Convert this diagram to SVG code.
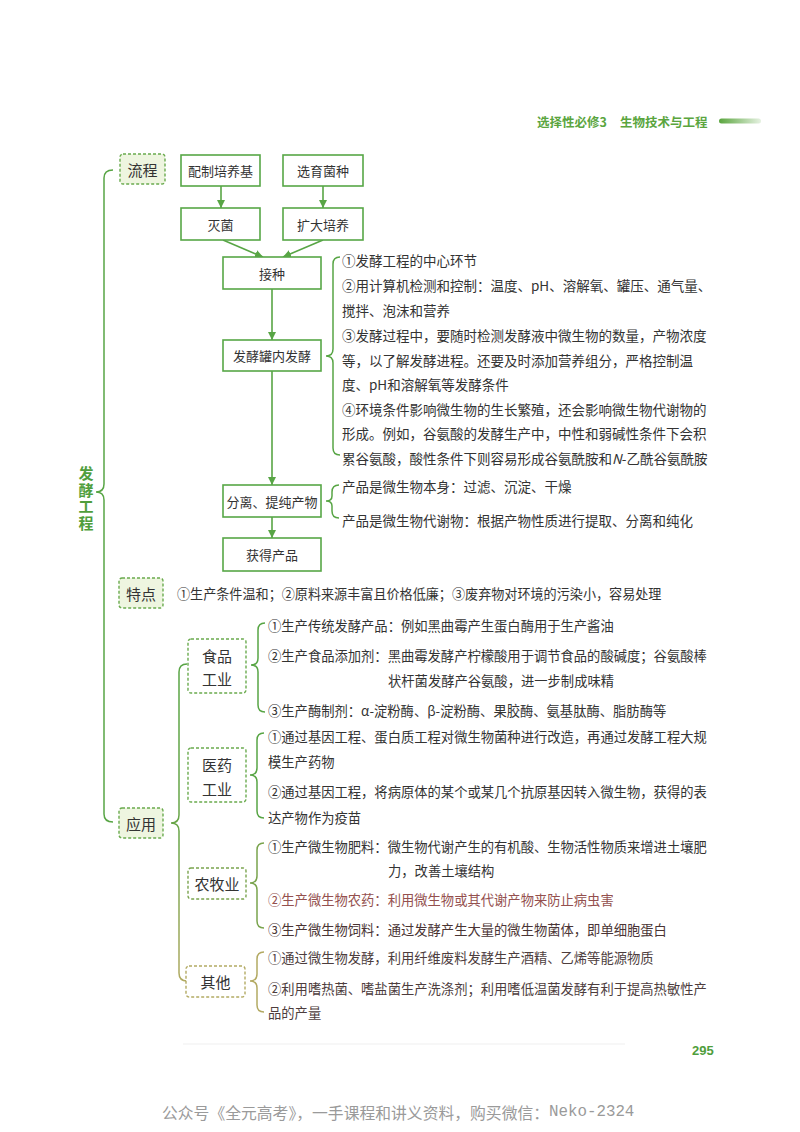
<svg xmlns="http://www.w3.org/2000/svg" width="800" height="1132" viewBox="0 0 800 1132">
<defs>
<style>
.t{font-family:"Noto Sans CJK SC","Noto Sans",sans-serif;fill:#333;dominant-baseline:central;}
.b{font-size:13.5px;}
.a{font-size:13.3px;}
.box{fill:#fff;stroke:#57a746;stroke-width:1.6;}
.dash{fill:#eef5e0;stroke:#6aab4e;stroke-width:1.4;stroke-dasharray:3 2;}
.dashw{fill:#fff;stroke:#6aab4e;stroke-width:1.4;stroke-dasharray:3 2;}
.ln{fill:none;stroke:#58a545;stroke-width:1.6;}
.br{fill:none;stroke:#58a545;stroke-width:1.5;}
.bl{font-size:13px;text-anchor:middle;}
.cat{font-size:15px;text-anchor:middle;}
.root{font-family:"Noto Sans CJK SC","Noto Sans",sans-serif;font-size:15px;font-weight:bold;fill:#4f9e3c;text-anchor:middle;writing-mode:vertical-rl;letter-spacing:1.5px;}
</style>
<marker id="ah" viewBox="0 0 10 10" refX="10" refY="5" markerWidth="8" markerHeight="8" orient="auto" markerUnits="userSpaceOnUse">
<path d="M0,0 L10,5 L0,10 z" fill="#58a545"/>
</marker>
<linearGradient id="bar" x1="0" y1="0" x2="1" y2="0">
<stop offset="0" stop-color="#5aa53e"/>
<stop offset="1" stop-color="#5aa53e" stop-opacity="0.15"/>
</linearGradient>
<linearGradient id="appg" gradientUnits="userSpaceOnUse" x1="0" y1="660" x2="0" y2="985">
<stop offset="0" stop-color="#58a545"/>
<stop offset="0.55" stop-color="#6aa548"/>
<stop offset="1" stop-color="#b3aa63"/>
</linearGradient>
</defs>
<rect width="800" height="1132" fill="#fff"/>

<g id="header">
<text class="t" x="537" y="121" style="font-size:12.5px;font-weight:bold;fill:#5aa53e">选择性必修3</text>
<text class="t" x="620" y="121" style="font-size:12.5px;font-weight:bold;fill:#5aa53e">生物技术与工程</text>
<rect x="719" y="118.5" width="42" height="5" rx="2.5" fill="url(#bar)"/>
</g>

<g id="connectors">
<path class="br" d="M113,170 Q104,170 104,178 L104,484 Q104,492 96,492 Q104,492 104,500 L104,814 Q104,822 113,822"/>
<line class="ln" x1="221" y1="186" x2="221" y2="208" marker-end="url(#ah)"/>
<line class="ln" x1="323" y1="186" x2="323" y2="208" marker-end="url(#ah)"/>
<line class="ln" x1="223" y1="240" x2="263" y2="257" marker-end="url(#ah)"/>
<line class="ln" x1="323" y1="240" x2="283" y2="257" marker-end="url(#ah)"/>
<line class="ln" x1="272" y1="289" x2="272" y2="340" marker-end="url(#ah)"/>
<line class="ln" x1="272" y1="371" x2="272" y2="485" marker-end="url(#ah)"/>
<line class="ln" x1="272" y1="517" x2="272" y2="538" marker-end="url(#ah)"/>
<path class="br" d="M340,257 Q333,257 333,264 L333,349 Q333,356 326,356 Q333,356 333,363 L333,448 Q333,455 340,455"/>
<path class="br" d="M339,485 Q332,485 332,492 L332,496 Q332,501 326,501 Q332,501 332,506 L332,511 Q332,518 339,518"/>
<path fill="none" stroke="url(#appg)" stroke-width="1.5" d="M187,664 Q179,664 179,672 L179,815 Q179,823 171,823 Q179,823 179,831 L179,973 Q179,981 187,981"/>
<path class="br" d="M265,623 Q258,623 258,630 L258,658 Q258,665 251,665 Q258,665 258,672 L258,705 Q258,712 265,712"/>
<path class="br" d="M264,733 Q257,733 257,740 L257,768 Q257,775 250,775 Q257,775 257,782 L257,811 Q257,818 264,818"/>
<path fill="none" stroke="#7aa44e" stroke-width="1.5" d="M264,843 Q257,843 257,850 L257,876 Q257,883 250,883 Q257,883 257,890 L257,921 Q257,928 264,928"/>
<path fill="none" stroke="#b3aa63" stroke-width="1.5" d="M264,952 Q257,952 257,959 L257,974 Q257,981 250,981 Q257,981 257,988 L257,1005 Q257,1012 264,1012"/>
</g>

<g id="root">
<text class="root" x="86" y="499">发酵工程</text>
</g>

<g id="liucheng">
<rect class="dash" x="120" y="154" width="45" height="30" rx="3"/>
<text class="t cat" x="142.5" y="169">流程</text>
</g>
<g id="peizhi"><rect class="box" x="181" y="155" width="79" height="31"/><text class="t bl" x="220.5" y="170.5">配制培养基</text></g>
<g id="xuanyu"><rect class="box" x="283" y="155" width="80" height="31"/><text class="t bl" x="323" y="170.5">选育菌种</text></g>
<g id="miejun"><rect class="box" x="181" y="208" width="79" height="32"/><text class="t bl" x="220.5" y="224">灭菌</text></g>
<g id="kuoda"><rect class="box" x="283" y="208" width="80" height="32"/><text class="t bl" x="323" y="224">扩大培养</text></g>
<g id="jiezhong"><rect class="box" x="223" y="257" width="98" height="32"/><text class="t bl" x="272" y="273">接种</text></g>
<g id="fajiao"><rect class="box" x="223" y="340" width="98" height="31"/><text class="t bl" x="272" y="355.5">发酵罐内发酵</text></g>
<g id="fenli"><rect class="box" x="223" y="485" width="98" height="32"/><text class="t bl" x="272" y="501">分离、提纯产物</text></g>
<g id="huode"><rect class="box" x="223" y="538" width="98" height="33"/><text class="t bl" x="272" y="554.5">获得产品</text></g>

<g id="fajiao-notes">
<text class="t b" x="342" y="260">①发酵工程的中心环节</text>
<text class="t b" x="342" y="285">②用计算机检测和控制：温度、pH、溶解氧、罐压、通气量、</text>
<text class="t b" x="342" y="310">搅拌、泡沫和营养</text>
<text class="t b" x="342" y="335">③发酵过程中，要随时检测发酵液中微生物的数量，产物浓度</text>
<text class="t b" x="342" y="360">等，以了解发酵进程。还要及时添加营养组分，严格控制温</text>
<text class="t b" x="342" y="384">度、pH和溶解氧等发酵条件</text>
<text class="t b" x="342" y="409">④环境条件影响微生物的生长繁殖，还会影响微生物代谢物的</text>
<text class="t b" x="342" y="433">形成。例如，谷氨酸的发酵生产中，中性和弱碱性条件下会积</text>
<text class="t b" x="342" y="458">累谷氨酸，酸性条件下则容易形成谷氨酰胺和<tspan font-style="italic">N</tspan>-乙酰谷氨酰胺</text>
</g>

<g id="fenli-notes">
<text class="t b" x="342" y="486">产品是微生物本身：过滤、沉淀、干燥</text>
<text class="t b" x="342" y="520">产品是微生物代谢物：根据产物性质进行提取、分离和纯化</text>
</g>

<g id="tedian">
<rect class="dash" x="119" y="578" width="44" height="30" rx="3"/>
<text class="t cat" x="141" y="593">特点</text>
<text class="t" x="177" y="593" style="font-size:13.1px">①生产条件温和；②原料来源丰富且价格低廉；③废弃物对环境的污染小，容易处理</text>
</g>

<g id="yingyong">
<rect class="dash" x="119" y="808" width="44" height="30" rx="3"/>
<text class="t cat" x="141" y="823">应用</text>
</g>

<g id="shipin">
<rect class="dashw" x="188" y="639" width="58" height="54" rx="3"/>
<text class="t cat" x="217" y="655">食品</text>
<text class="t cat" x="217" y="678">工业</text>
<text class="t a" x="268" y="625">①生产传统发酵产品：例如黑曲霉产生蛋白酶用于生产酱油</text>
<text class="t a" x="268" y="655">②生产食品添加剂：黑曲霉发酵产柠檬酸用于调节食品的酸碱度；谷氨酸棒</text>
<text class="t a" x="388" y="680">状杆菌发酵产谷氨酸，进一步制成味精</text>
<text class="t a" x="268" y="710">③生产酶制剂：α-淀粉酶、β-淀粉酶、果胶酶、氨基肽酶、脂肪酶等</text>
</g>

<g id="yiyao">
<rect class="dashw" x="188" y="748" width="58" height="54" rx="3"/>
<text class="t cat" x="217" y="764">医药</text>
<text class="t cat" x="217" y="788">工业</text>
<text class="t a" x="268" y="736">①通过基因工程、蛋白质工程对微生物菌种进行改造，再通过发酵工程大规</text>
<text class="t a" x="268" y="761">模生产药物</text>
<text class="t a" x="268" y="791">②通过基因工程，将病原体的某个或某几个抗原基因转入微生物，获得的表</text>
<text class="t a" x="268" y="817">达产物作为疫苗</text>
</g>

<g id="nongmu">
<rect x="188" y="868" width="58" height="31" rx="3" fill="#fff" stroke="#7aa44e" stroke-width="1.4" stroke-dasharray="3 2"/>
<text class="t cat" x="217" y="883.5">农牧业</text>
<text class="t a" x="268" y="846">①生产微生物肥料：微生物代谢产生的有机酸、生物活性物质来增进土壤肥</text>
<text class="t a" x="388" y="870">力，改善土壤结构</text>
<text class="t a" x="268" y="899" style="fill:#94504e">②生产微生物农药：利用微生物或其代谢产物来防止病虫害</text>
<text class="t a" x="268" y="929" style="fill:#4a3434">③生产微生物饲料：通过发酵产生大量的微生物菌体，即单细胞蛋白</text>
</g>

<g id="qita">
<rect x="186" y="966" width="59" height="31" rx="3" fill="#fff" stroke="#b3aa63" stroke-width="1.4" stroke-dasharray="3 2"/>
<text class="t cat" x="215.5" y="981.5">其他</text>
<text class="t a" x="268" y="957" style="fill:#4d3d3d">①通过微生物发酵，利用纤维废料发酵生产酒精、乙烯等能源物质</text>
<text class="t a" x="268" y="988" style="fill:#4d3d3d">②利用嗜热菌、嗜盐菌生产洗涤剂；利用嗜低温菌发酵有利于提高热敏性产</text>
<text class="t a" x="268" y="1012" style="fill:#4d3d3d">品的产量</text>
</g>

<g id="footer">
<line x1="183" y1="1044" x2="625" y2="1044" stroke="#f4f4f4" stroke-width="1.5"/>
<text x="692" y="1050" style="font-family:'Liberation Sans',sans-serif;font-size:13px;font-weight:bold;fill:#4f9e3c;dominant-baseline:central">295</text>
<text x="162" y="1112" style="font-family:'Noto Sans CJK SC',sans-serif;font-size:15.8px;fill:#9a9a9a;dominant-baseline:central">公众号《全元高考》，一手课程和讲义资料，购买微信：<tspan style="font-family:'Liberation Mono',monospace">Neko-2324</tspan></text>
</g>
</svg>
